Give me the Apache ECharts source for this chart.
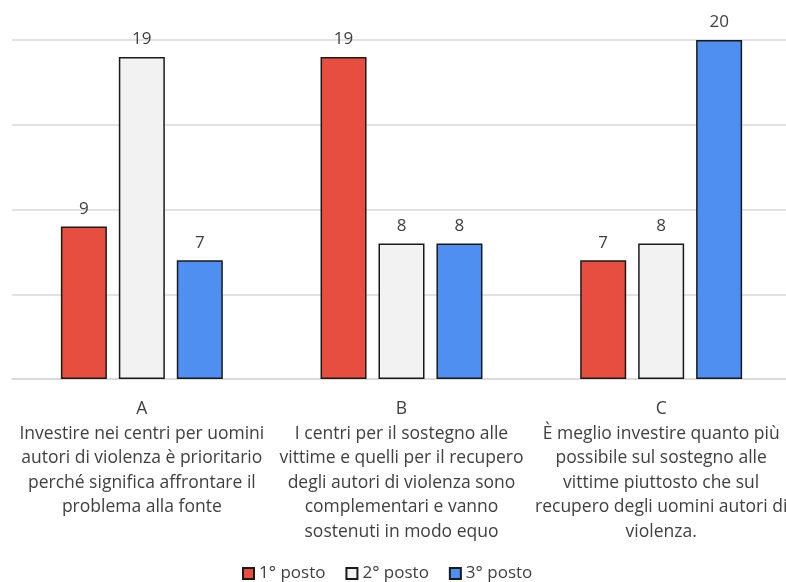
<!DOCTYPE html>
<html>
<head>
<meta charset="utf-8">
<script src="https://cdn.jsdelivr.net/npm/echarts@6/dist/echarts.min.js"></script>
<style>
  html, body { margin: 0; padding: 0; background: #ffffff; overflow: hidden; }
  #chart { width: 804px; height: 582px; }
</style>
</head>
<body>
<div id="chart"></div>
<script>
// Category labels (letter + statement, broken into lines)
const categories = [
  'A\nInvestire nei centri per uomini\nautori di violenza è prioritario\nperché significa affrontare il\nproblema alla fonte',
  'B\nI centri per il sostegno alle\nvittime e quelli per il recupero\ndegli autori di violenza sono\ncomplementari e vanno\nsostenuti in modo equo',
  'C\nÈ meglio investire quanto più\npossibile sul sostegno alle\nvittime piuttosto che sul\nrecupero degli uomini autori di\nviolenza.'
];
const seriesNames = ['1° posto', '2° posto', '3° posto'];
const primo = [9, 19, 7];
const secondo = [19, 8, 8];
const terzo = [7, 8, 20];

const colors = ['#E84E40', '#F2F2F2', '#4F8FF2'];
const FONT = '"Open Sans", "Noto Sans", sans-serif';

function barSeries(name, data, color) {
  return {
    name: name,
    type: 'bar',
    data: data,
    barWidth: 46,
    barGap: '26%',
    itemStyle: { color: color, borderColor: '#1a1a1a', borderWidth: 1.5 },
    label: {
      show: true,
      position: 'top',
      distance: 9,
      color: '#404040',
      fontFamily: FONT,
      fontSize: 17
    }
  };
}

const chart = echarts.init(document.getElementById('chart'), null, { renderer: 'canvas' });
chart.setOption({
  animation: false,
  backgroundColor: '#ffffff',
  grid: { left: 12, top: 40, width: 779, height: 339, containLabel: false },
  legend: {
    data: seriesNames,
    top: 560,
    left: 237,
    icon: 'rect',
    itemWidth: 11,
    itemHeight: 11,
    itemGap: 20,
    textStyle: { color: '#404040', fontFamily: FONT, fontSize: 17 }
  },
  xAxis: {
    type: 'category',
    data: categories,
    axisTick: { show: false },
    axisLine: { show: true, lineStyle: { color: '#d9d9d9', width: 1.5 } },
    axisLabel: {
      interval: 0,
      margin: 18,
      color: '#404040',
      fontFamily: FONT,
      fontSize: 17.5,
      lineHeight: 24.5,
      align: 'center'
    }
  },
  yAxis: {
    type: 'value',
    min: 0,
    max: 20,
    interval: 5,
    axisLabel: { show: false },
    axisLine: { show: false },
    axisTick: { show: false },
    splitLine: { lineStyle: { color: '#d9d9d9', width: 1.5 } }
  },
  series: [
    barSeries(seriesNames[0], primo, colors[0]),
    barSeries(seriesNames[1], secondo, colors[1]),
    barSeries(seriesNames[2], terzo, colors[2])
  ]
});
</script>
</body>
</html>
